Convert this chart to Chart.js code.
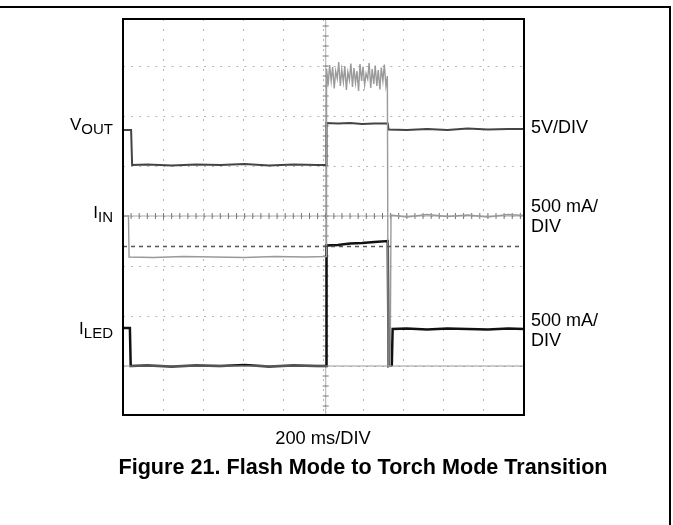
<!DOCTYPE html>
<html>
<head>
<meta charset="utf-8">
<script src="https://cdn.jsdelivr.net/npm/chart.js@4"></script>
<style>
    body { margin: 0; background: #fff; }
    #wrap { position: relative; width: 673px; height: 525px; font-family: "Liberation Sans", Arial, sans-serif; color: #000; }
    #wrap canvas { position: absolute; left: 0; top: 0; }
    .frameTop { position: absolute; left: 0; top: 6px; width: 671px; height: 2px; background: #000; }
    .frameRight { position: absolute; left: 669px; top: 6px; width: 2px; height: 519px; background: #000; }
    .lbl { position: absolute; white-space: nowrap; }
    .left { left: 0; width: 113px; text-align: right; font-size: 17px; line-height: 17px; }
    .left span { font-size: 15px; vertical-align: -4px; }
    .right { left: 531px; font-size: 18px; line-height: 20px; }
</style>
</head>
<body>
<div id="wrap">
    <canvas id="scope" width="673" height="525"></canvas>
    <div class="frameTop"></div>
    <div class="frameRight"></div>

    <div class="lbl left" style="top:116px">V<span>OUT</span></div>
    <div class="lbl left" style="top:204px">I<span>IN</span></div>
    <div class="lbl left" style="top:320px">I<span>LED</span></div>

    <div class="lbl right" style="top:117px">5V/DIV</div>
    <div class="lbl right" style="top:196px">500 mA/<br>DIV</div>
    <div class="lbl right" style="top:310px">500 mA/<br>DIV</div>

    <div class="lbl" style="left:0; width:646px; text-align:center; top:427px; font-size:18.3px">200 ms/DIV</div>
    <div class="lbl" style="left:0; width:726px; text-align:center; top:454px; font-size:21.6px; font-weight:bold">Figure 21. Flash Mode to Torch Mode Transition</div>
</div>

<script>
// time in ms (200 ms/DIV), levels in screen divisions (0 = bottom of screen)
const voutT = [0, 40, 45, 120, 240, 360, 480, 600, 720, 840, 960, 1002, 1004, 1060, 1120, 1180, 1240, 1306, 1310, 1400, 1500, 1600, 1700, 1800, 1900, 1978];
const voutY = [5.72, 5.72, 5.02, 5.03, 5.01, 5.03, 5.02, 5.04, 5.01, 5.03, 5.02, 5.02, 5.86, 5.85, 5.86, 5.84, 5.85, 5.85, 5.73, 5.72, 5.74, 5.72, 5.75, 5.73, 5.74, 5.74];

const iinT = [0, 27, 30, 150, 300, 450, 600, 750, 900, 1002,
    1004, 1012, 1019, 1027, 1034, 1042, 1049, 1057, 1064, 1072,
    1079, 1087, 1094, 1102, 1109, 1117, 1124, 1132, 1139, 1147,
    1154, 1162, 1169, 1177, 1184, 1192, 1199, 1207, 1214, 1222,
    1229, 1237, 1244, 1252, 1259, 1267, 1274, 1282, 1289, 1297,
    1304, 1308, 1318, 1322, 1400, 1500, 1600, 1700, 1800, 1900, 1978];
const iinY = [4.0, 4.0, 3.18, 3.17, 3.19, 3.18, 3.17, 3.19, 3.18, 3.19,
    6.95, 6.62, 7.02, 6.70, 6.98, 6.55, 6.90, 6.75, 7.08, 6.60,
    6.93, 6.68, 7.00, 6.52, 6.88, 6.72, 7.05, 6.58, 6.96, 6.66,
    6.90, 6.50, 7.04, 6.70, 6.99, 6.62, 6.85, 6.74, 7.06, 6.56,
    6.94, 6.64, 7.01, 6.60, 6.92, 6.53, 6.97, 6.70, 7.03, 6.60,
    6.80, 1.0, 1.0, 4.02, 3.98, 4.03, 3.99, 4.02, 3.98, 4.03, 4.01];

const iledT = [0, 34, 38, 120, 240, 360, 480, 600, 720, 840, 960, 1002, 1004, 1060, 1120, 1180, 1240, 1306, 1310, 1326, 1330, 1400, 1500, 1600, 1700, 1800, 1900, 1978];
const iledY = [1.76, 1.76, 1.0, 1.01, 0.99, 1.01, 1.0, 1.02, 0.99, 1.01, 1.0, 1.0, 3.41, 3.42, 3.45, 3.46, 3.48, 3.5, 1.0, 1.02, 1.74, 1.75, 1.73, 1.75, 1.74, 1.73, 1.75, 1.74];

// cursor / ground markers
const cursorLevel = [3.39];
const groundLevel = [1.0];

const tMax = 1978;

const toPoints = (ts, ys) => ts.map((t, i) => ({ x: t, y: ys[i] }));

const centerAxes = {
    id: 'centerAxes',
    beforeDatasetsDraw(chart) {
        const { ctx, scales: { x, y } } = chart;
        const cx = x.getPixelForValue(1000);
        const cy = y.getPixelForValue(4);
        ctx.save();
        ctx.strokeStyle = '#aaa';
        ctx.lineWidth = 1;
        ctx.beginPath();
        ctx.moveTo(x.left, cy); ctx.lineTo(x.right, cy);
        ctx.moveTo(cx, y.top); ctx.lineTo(cx, y.bottom);
        ctx.stroke();
        ctx.strokeStyle = '#777';
        ctx.beginPath();
        for (let t = 40; t < tMax; t += 40) {
            const px = x.getPixelForValue(t);
            ctx.moveTo(px, cy - 3); ctx.lineTo(px, cy + 3);
        }
        for (let v = 0.2; v < 8; v += 0.2) {
            const py = y.getPixelForValue(v);
            ctx.moveTo(cx - 3, py); ctx.lineTo(cx + 3, py);
        }
        ctx.stroke();
        ctx.restore();
    },
    afterDraw(chart) {
        const { ctx, chartArea: a } = chart;
        ctx.save();
        ctx.strokeStyle = '#000';
        ctx.lineWidth = 2;
        ctx.strokeRect(a.left, a.top, a.right - a.left, a.bottom - a.top);
        ctx.restore();
    }
};

new Chart(document.getElementById('scope'), {
    type: 'scatter',
    data: {
        datasets: [
            {
                label: 'cursor',
                data: [{ x: 0, y: cursorLevel[0] }, { x: tMax, y: cursorLevel[0] }],
                showLine: true, borderColor: '#555', borderWidth: 1.3, borderDash: [4, 4], pointRadius: 0,
            },
            {
                label: 'ground',
                data: [{ x: 0, y: groundLevel[0] }, { x: tMax, y: groundLevel[0] }],
                showLine: true, borderColor: '#999', borderWidth: 1, pointRadius: 0,
            },
            {
                label: 'IIN',
                data: toPoints(iinT, iinY),
                showLine: true, borderColor: '#9a9a9a', borderWidth: 1.4, pointRadius: 0,
            },
            {
                label: 'VOUT',
                data: toPoints(voutT, voutY),
                showLine: true, borderColor: '#444', borderWidth: 2, pointRadius: 0,
            },
            {
                label: 'ILED',
                data: toPoints(iledT, iledY),
                showLine: true, borderColor: '#111', borderWidth: 2.5, pointRadius: 0,
            },
        ],
    },
    options: {
        responsive: false,
        animation: false,
        layout: { padding: { left: 123, right: 149, top: 19, bottom: 110 } },
        plugins: { legend: { display: false }, tooltip: { enabled: false } },
        scales: {
            x: {
                type: 'linear', min: 0, max: tMax,
                ticks: { display: false, stepSize: 200 },
                grid: { color: '#b5b5b5', drawTicks: false, tickLength: 0 },
                border: { display: false, dash: [2, 8] },
            },
            y: {
                type: 'linear', min: 0.02, max: 7.94,
                ticks: { display: false, stepSize: 1 },
                grid: { color: '#b5b5b5', drawTicks: false, tickLength: 0 },
                border: { display: false, dash: [2, 6.1] },
            },
        },
    },
    plugins: [centerAxes],
});
</script>
</body>
</html>
